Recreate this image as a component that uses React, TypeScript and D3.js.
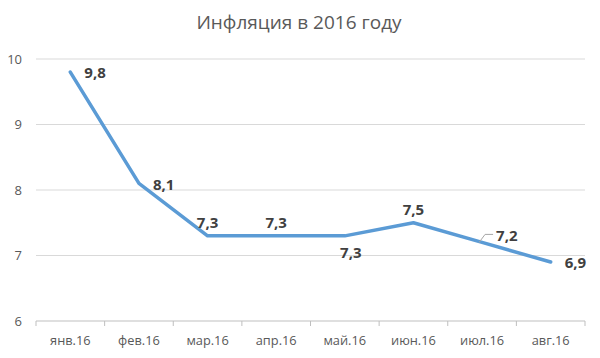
import React from "react";
import * as d3 from "d3";

const categories = ["янв.16", "фев.16", "мар.16", "апр.16", "май.16", "июн.16", "июл.16", "авг.16"];
const values = [9.8, 8.1, 7.3, 7.3, 7.3, 7.5, 7.2, 6.9];
const labelPlacement = ["right", "right", "above", "above", "below", "above", "leader", "right"];
const yTicks = [6, 7, 8, 9, 10];
const title = "Инфляция в 2016 году";

const W = 600, H = 358;
const M = { left: 36, right: 15, top: 59, bottom: 37 };
const FONT = "'Open Sans', 'Noto Sans', sans-serif";

export default function App() {
  const x = d3.scaleBand<string>().domain(categories).range([M.left, W - M.right]);
  const y = d3.scaleLinear().domain([6, 10]).range([H - M.bottom, M.top]);
  const cx = (c: string) => (x(c) as number) + x.bandwidth() / 2;
  const line = d3.line<number>().x((_, i) => cx(categories[i])).y((v) => y(v));
  const fmt = (v: number) => v.toFixed(1).replace(".", ",");
  const base = y(6);
  const bounds = [...categories.map((c) => x(c) as number), W - M.right];

  return (
    <svg width={W} height={H} style={{ position: "absolute", left: 0, top: 0, background: "#fff" }}>
      <rect width={W} height={H} fill="#fff" />
      <text x={299} y={29} textAnchor="middle" fontFamily={FONT} fontSize={19} fill="#595959">{title}</text>
      {yTicks.map((t) => (
        <g key={t}>
          {t !== 6 && <line x1={M.left} x2={W - M.right} y1={y(t)} y2={y(t)} stroke="#d9d9d9" strokeWidth={1} />}
          <text x={22} y={y(t)} dy="0.35em" textAnchor="end" fontFamily={FONT} fontSize={13} fill="#595959">{t}</text>
        </g>
      ))}
      <line x1={M.left} x2={W - M.right} y1={base} y2={base} stroke="#bfbfbf" strokeWidth={1} />
      {bounds.map((b, i) => (
        <line key={i} x1={b} x2={b} y1={base} y2={base + 5} stroke="#bfbfbf" strokeWidth={1} />
      ))}
      {categories.map((c) => (
        <text key={c} x={cx(c)} y={345} textAnchor="middle" fontFamily={FONT} fontSize={12.8} fill="#595959">{c}</text>
      ))}
      <path d={line(values) || ""} fill="none" stroke="#5B9BD5" strokeWidth={3.5} strokeLinecap="round" strokeLinejoin="round" />
      {values.map((v, i) => {
        const px = cx(categories[i]);
        const py = y(v);
        const p = labelPlacement[i];
        let lx = px, ly = py, anchor = "middle";
        if (p === "right") { lx = px + 14; ly = py + 1; anchor = "start"; }
        if (p === "above") { ly = py - 13; }
        if (p === "below") { ly = py + 17; lx = px + 6; }
        if (p === "leader") {
          const mx = px - 3;
          const my = py;
          return (
            <g key={i}>
              <polyline points={`${mx},${my} ${mx + 6},${my - 8} ${mx + 14},${my - 8}`} fill="none" stroke="#a6a6a6" strokeWidth={1} />
              <text x={mx + 17} y={my - 7} dy="0.35em" fontFamily={FONT} fontSize={15} fontWeight="bold" fill="#404040">{fmt(v)}</text>
            </g>
          );
        }
        return (
          <text key={i} x={lx} y={ly} dy="0.35em" textAnchor={anchor as any} fontFamily={FONT} fontSize={15} fontWeight="bold" fill="#404040">{fmt(v)}</text>
        );
      })}
    </svg>
  );
}
